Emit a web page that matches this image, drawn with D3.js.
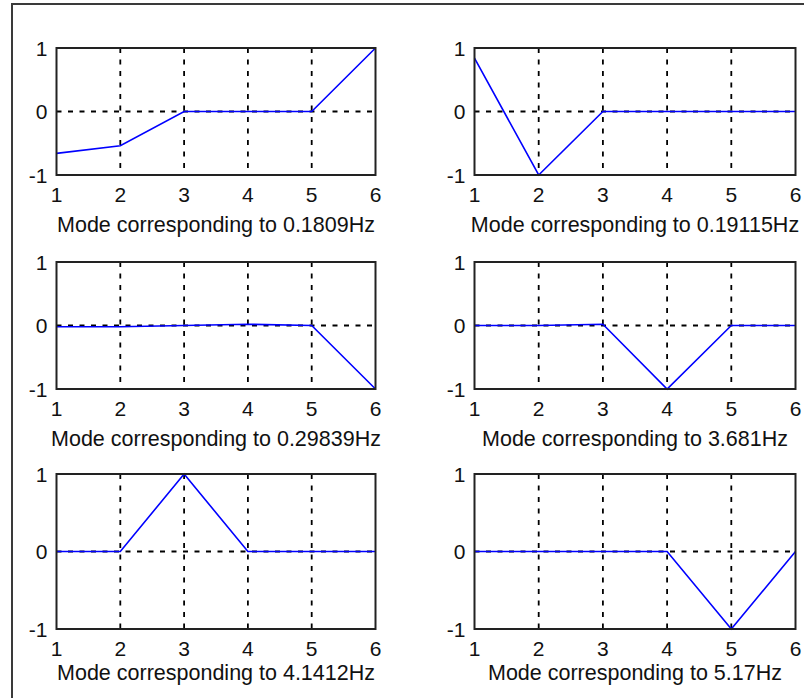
<html>
<head>
<script src="https://d3js.org/d3.v7.min.js"></script>
<style>
  body { margin: 0; background: #fff; }
  text { font-family: "Liberation Sans", Arial, sans-serif; fill: #111; }
</style>
</head>
<body>
<svg id="modes" width="804" height="698"></svg>
<script>
// node numbers along the x axis
const nodes = [1, 2, 3, 4, 5, 6];
const xTicks = [1, 2, 3, 4, 5, 6];
const yTicks = [-1, 0, 1];

// mode shapes
const mode1 = [-0.66, -0.54, 0, 0, 0, 1];
const mode2 = [0.84, -1, 0, 0, 0, 0];
const mode3 = [-0.02, -0.02, 0, 0.02, 0, -1];
const mode4 = [0, 0, 0.02, -1, 0, 0];
const mode5 = [0, 0, 1, 0, 0, 0];
const mode6 = [0, 0, 0, 0, -1, 0];

const freqs = ["0.1809", "0.19115", "0.29839", "3.681", "4.1412", "5.17"];
const modes = [mode1, mode2, mode3, mode4, mode5, mode6];

let svg = d3.select("svg#modes");

// frame round the figure (runs off right and bottom)
svg.append("rect")
  .attr("x", 12).attr("y", 4)
  .attr("width", 820).attr("height", 720)
  .style("fill", "none")
  .style("stroke", "#3a3a3a")
  .style("stroke-width", 2);

// plot boxes: [left, right, top, bottom], caption offset below box
const cols = [[56.5, 375.5], [474.5, 795.5]];
const rows = [[48, 175, 57], [262, 389, 57], [474, 629, 51]];

modes.forEach(function(vals, i) {
  let c = cols[i % 2], r = rows[Math.floor(i / 2)];
  let xScale = d3.scaleLinear().domain([1, 6]).range([c[0], c[1]]);
  let yScale = d3.scaleLinear().domain([-1, 1]).range([r[1], r[0]]);
  let g = svg.append("g");

  // dotted grid
  xTicks.slice(1, -1).forEach(function(t) {
    g.append("line")
      .attr("x1", xScale(t)).attr("x2", xScale(t))
      .attr("y1", r[0]).attr("y2", r[1])
      .style("stroke", "#000").style("stroke-width", 1.8)
      .style("stroke-dasharray", "5,6.5");
  });
  g.append("line")
    .attr("x1", c[0]).attr("x2", c[1])
    .attr("y1", yScale(0)).attr("y2", yScale(0))
    .style("stroke", "#000").style("stroke-width", 1.8)
    .style("stroke-dasharray", "5,6.5");

  // mode line
  let line = d3.line().x((d, k) => xScale(nodes[k])).y(d => yScale(d));
  g.append("path")
    .datum(vals)
    .attr("d", line)
    .style("fill", "none")
    .style("stroke", "#0000ff")
    .style("stroke-width", 1.6);

  // axes box
  g.append("rect")
    .attr("x", c[0]).attr("y", r[0])
    .attr("width", c[1] - c[0]).attr("height", r[1] - r[0])
    .style("fill", "none")
    .style("stroke", "#222")
    .style("stroke-width", 2);

  // tick labels
  xTicks.forEach(function(t) {
    g.append("text")
      .attr("x", xScale(t)).attr("y", r[1] + 27)
      .attr("text-anchor", "middle")
      .style("font-size", "21px")
      .text(t);
  });
  yTicks.forEach(function(t) {
    g.append("text")
      .attr("x", c[0] - 9).attr("y", yScale(t) + 7.5)
      .attr("text-anchor", "end")
      .style("font-size", "21px")
      .text(t);
  });

  // caption
  g.append("text")
    .attr("x", (c[0] + c[1]) / 2).attr("y", r[1] + r[2])
    .attr("text-anchor", "middle")
    .style("font-size", "21.5px")
    .text("Mode corresponding to " + freqs[i] + "Hz");
});
</script>
</body>
</html>
